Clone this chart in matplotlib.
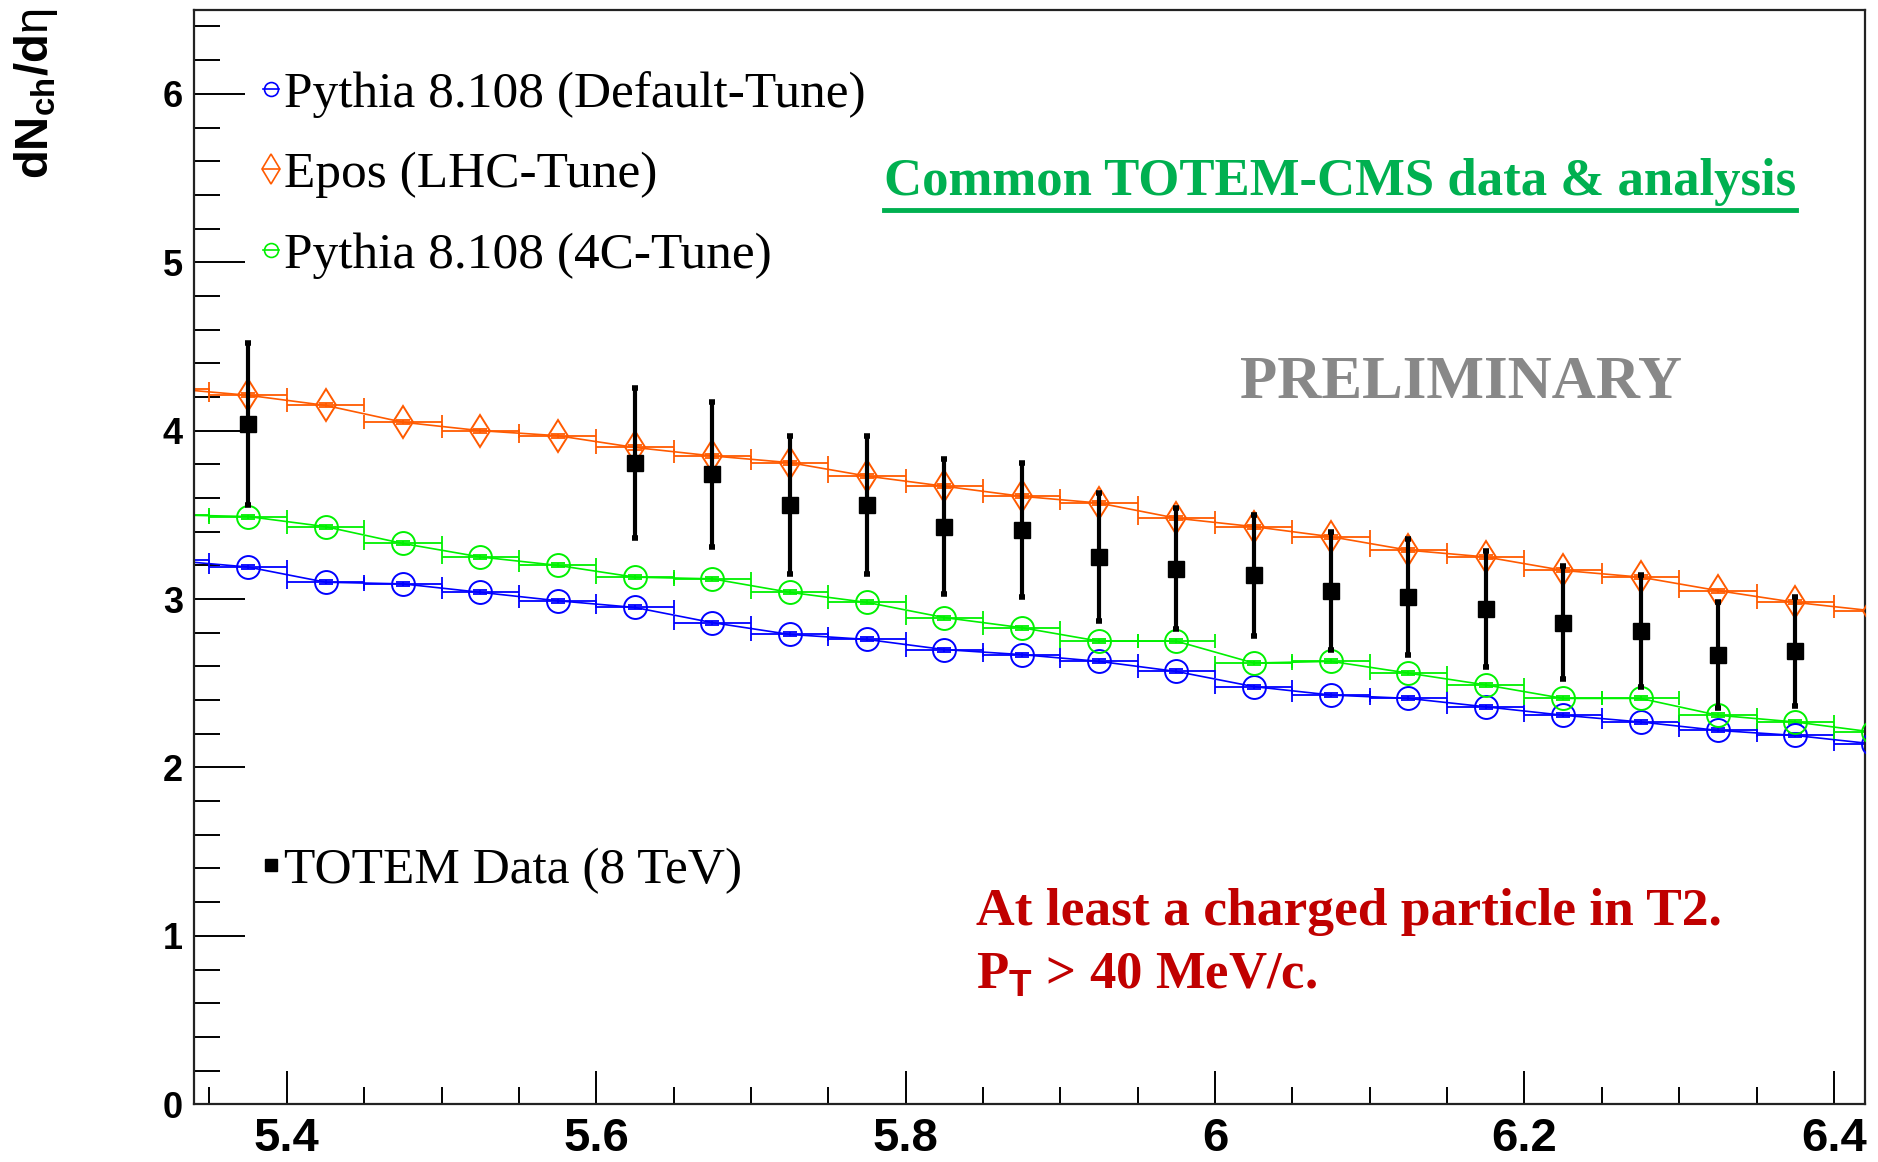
import numpy as np
import matplotlib
matplotlib.use("Agg")
import matplotlib.pyplot as plt
from matplotlib.lines import Line2D
from matplotlib.ticker import MultipleLocator, FixedLocator

# ---------------- data ----------------
# MC bin centres (bin width 0.05)
mc_eta = [5.325, 5.375, 5.425, 5.475, 5.525, 5.575, 5.625, 5.675, 5.725, 5.775,
          5.825, 5.875, 5.925, 5.975, 6.025, 6.075, 6.125, 6.175, 6.225, 6.275,
          6.325, 6.375, 6.425]
pythia_default = [3.23, 3.19, 3.10, 3.09, 3.04, 2.99, 2.95, 2.86, 2.79, 2.76,
                  2.70, 2.67, 2.63, 2.57, 2.48, 2.43, 2.41, 2.36, 2.31, 2.27,
                  2.22, 2.19, 2.14]
epos_lhc = [4.25, 4.21, 4.15, 4.05, 4.00, 3.97, 3.90, 3.85, 3.81, 3.73,
            3.67, 3.61, 3.57, 3.48, 3.43, 3.37, 3.29, 3.25, 3.17, 3.13,
            3.05, 2.98, 2.93]
pythia_4c = [3.50, 3.49, 3.43, 3.33, 3.25, 3.20, 3.13, 3.12, 3.04, 2.98,
             2.89, 2.83, 2.75, 2.75, 2.62, 2.63, 2.56, 2.49, 2.41, 2.41,
             2.31, 2.27, 2.21]

totem_eta = [5.375, 5.625, 5.675, 5.725, 5.775, 5.825, 5.875, 5.925, 5.975,
             6.025, 6.075, 6.125, 6.175, 6.225, 6.275, 6.325, 6.375]
totem_val = [4.04, 3.81, 3.74, 3.56, 3.56, 3.43, 3.41, 3.25, 3.18,
             3.14, 3.05, 3.01, 2.94, 2.86, 2.81, 2.67, 2.69]
totem_err = [0.48, 0.445, 0.43, 0.41, 0.41, 0.40, 0.40, 0.38, 0.36,
             0.36, 0.35, 0.345, 0.345, 0.335, 0.335, 0.315, 0.325]

xticks_major = [5.4, 5.6, 5.8, 6.0, 6.2, 6.4]
xtick_labels = ["5.4", "5.6", "5.8", "6", "6.2", "6.4"]
yticks_major = [0, 1, 2, 3, 4, 5, 6]

labels = ["Pythia 8.108 (Default-Tune)", "Epos (LHC-Tune)",
          "Pythia 8.108 (4C-Tune)", "TOTEM Data (8 TeV)"]

# ---------------- style ----------------
plt.rcParams['mathtext.fontset'] = 'custom'
plt.rcParams['mathtext.rm'] = 'Liberation Sans'
plt.rcParams['mathtext.bf'] = 'Liberation Sans:bold'
plt.rcParams['mathtext.it'] = 'Liberation Sans'

BLUE = '#0000FF'
ORANGE = '#FF5A00'
GREEN = '#00F000'

fig = plt.figure(figsize=(18.78, 11.62), dpi=100)
ax = fig.add_axes([0.1033, 0.0497, 0.8897, 0.9420])

bw = 0.05
for vals, col, mk, ms in [(pythia_default, BLUE, 'o', 16.5),
                          (pythia_4c, GREEN, 'o', 16.5),
                          (epos_lhc, ORANGE, 'd', 16.5)]:
    ax.errorbar(mc_eta, vals, xerr=bw / 2, yerr=0.012, fmt='none',
                ecolor=col, elinewidth=1.3, capsize=5, capthick=1.3, zorder=2)
    ax.plot(mc_eta, vals, '-', color=col, lw=1.2, zorder=2)
    ax.plot(mc_eta, vals, linestyle='none', marker=mk, ms=ms, mfc='none',
            mec=col, mew=1.4, zorder=3)

ax.errorbar(totem_eta, totem_val, yerr=totem_err, fmt='s', color='black',
            ms=11, elinewidth=3, capsize=2.5, capthick=4, zorder=5)

ax.set_xlim(5.34, 6.42)
ax.set_ylim(0, 6.5)

ax.xaxis.set_major_locator(FixedLocator(xticks_major))
ax.set_xticklabels(xtick_labels)
ax.xaxis.set_minor_locator(MultipleLocator(0.05))
ax.yaxis.set_major_locator(FixedLocator(yticks_major))
ax.yaxis.set_minor_locator(MultipleLocator(0.2))

ax.tick_params(axis='x', which='major', direction='in', length=24, width=1.4,
               pad=9, top=False, labelsize=34)
ax.tick_params(axis='x', which='minor', direction='in', length=12, width=1.4,
               top=False)
ax.tick_params(axis='y', which='major', direction='in', length=37, width=1.4,
               pad=8, right=False, labelsize=26)
ax.tick_params(axis='y', which='minor', direction='in', length=19, width=1.4,
               right=False)
for lab in ax.get_xticklabels() + ax.get_yticklabels():
    lab.set_family('Liberation Sans')
    lab.set_fontweight('bold')
for sp in ax.spines.values():
    sp.set_linewidth(1.6)
    sp.set_color('#222222')

# y label (ROOT style, top aligned)
fig.text(0.019, 0.993, r'$\mathbf{dN_{ch}/d}\eta$', rotation=90,
         ha='center', va='top', fontsize=34)

# legends
h_mc = [Line2D([], [], color=BLUE, marker='o', ms=10, mfc='none', mew=1.2, lw=1.2),
        Line2D([], [], color=ORANGE, marker='d', ms=15, mfc='none', mew=1.2, lw=1.2),
        Line2D([], [], color=GREEN, marker='o', ms=10, mfc='none', mew=1.2, lw=1.2)]
leg1 = ax.legend(h_mc, labels[:3], loc='center left', bbox_to_anchor=(0.0414, 0.849),
                 frameon=False, borderpad=0, borderaxespad=0, handlelength=0.3,
                 handletextpad=0.1, labelspacing=0.66,
                 prop={'family': 'Liberation Serif', 'size': 37})
ax.add_artist(leg1)
h_d = [Line2D([], [], color='black', marker='s', ms=9, lw=0)]
ax.legend(h_d, labels[3:], loc='center left', bbox_to_anchor=(0.0414, 0.2133),
          frameon=False, borderpad=0, borderaxespad=0, handlelength=0.3,
          handletextpad=0.1, prop={'family': 'Liberation Serif', 'size': 37})

# annotations
t_common = ax.text(0.413, 0.8306, 'Common TOTEM-CMS data & analysis', transform=ax.transAxes,
                   color='#00B050', fontsize=38, fontweight='bold',
                   family='Liberation Serif', ha='left', va='baseline')
ax.text(0.6263, 0.6589, 'PRELIMINARY', transform=ax.transAxes, color='#888888',
        fontsize=44, fontweight='bold', family='Liberation Serif',
        ha='left', va='center')
ax.text(0.4680, 0.164, 'At least a charged particle in T2.', transform=ax.transAxes,
        color='#C00000', fontsize=38.5, fontweight='bold', family='Liberation Serif',
        ha='left', va='baseline')
ax.text(0.4680, 0.1052, r'P$_{\mathbf{T}}$ > 40 MeV/c.', transform=ax.transAxes,
        color='#C00000', fontsize=38, fontweight='bold', family='Liberation Serif',
        ha='left', va='baseline')

# underline for green headline
fig.canvas.draw()
bb = t_common.get_window_extent(fig.canvas.get_renderer())
W, H = fig.bbox.width, fig.bbox.height
y_ul = bb.y0 - 4
fig.add_artist(Line2D([bb.x0 / W, bb.x1 / W], [y_ul / H, y_ul / H],
                      color='#00B050', lw=3.5))

fig.savefig('out.png', dpi=100)
